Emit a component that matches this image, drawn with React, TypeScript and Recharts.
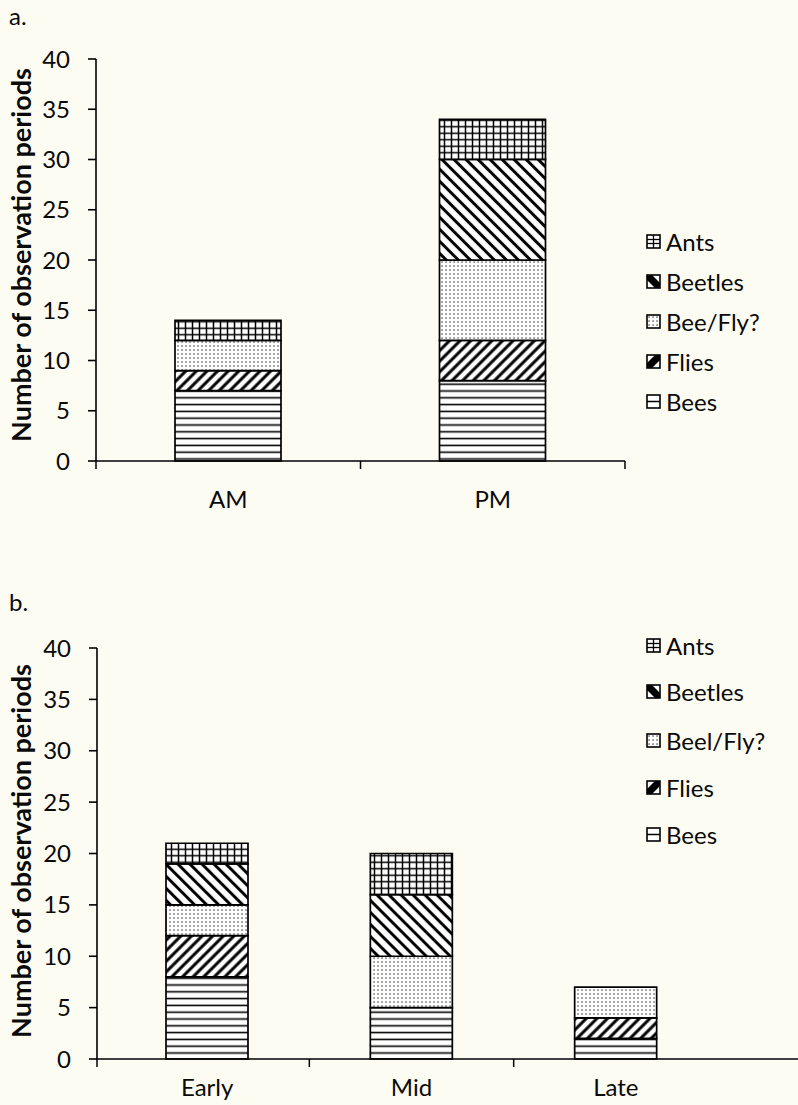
import React from 'react';
import { BarChart, Bar, XAxis, YAxis } from 'recharts';

const categoriesA = ['AM', 'PM'];
const beesA = [7, 8];
const fliesA = [2, 4];
const beeFlyA = [3, 8];
const beetlesA = [0, 10];
const antsA = [2, 4];

const categoriesB = ['Early', 'Mid', 'Late'];
const beesB = [8, 5, 2];
const fliesB = [4, 0, 2];
const beeFlyB = [3, 5, 3];
const beetlesB = [4, 6, 0];
const antsB = [2, 4, 0];

const yTicks = [0, 5, 10, 15, 20, 25, 30, 35, 40];
const legendA = ['Ants', 'Beetles', 'Bee/Fly?', 'Flies', 'Bees'];
const legendB = ['Ants', 'Beetles', 'Beel/Fly?', 'Flies', 'Bees'];
const yTitle = 'Number of observation periods';

const dataA = categoriesA.map((c, i) => ({
  cat: c, bees: beesA[i], flies: fliesA[i], beeFly: beeFlyA[i], beetles: beetlesA[i], ants: antsA[i],
}));
const dataB = categoriesB.map((c, i) => ({
  cat: c, bees: beesB[i], flies: fliesB[i], beeFly: beeFlyB[i], beetles: beetlesB[i], ants: antsB[i],
}));

const FONT = 'Lato, "Open Sans", sans-serif';
const BG = '#fdfcf3';
const INK = '#0a0a0a';
const TICK_FS = 24;

const series = [
  { key: 'bees', fill: 'url(#pBees)' },
  { key: 'flies', fill: 'url(#pFlies)' },
  { key: 'beeFly', fill: 'url(#pBeeFly)' },
  { key: 'beetles', fill: 'url(#pBeetles)' },
  { key: 'ants', fill: 'url(#pAnts)' },
];

function Patterns() {
  return (
    <svg width="0" height="0" style={{ position: 'absolute', left: 0, top: 0 }}>
      <defs>
        <pattern id="pBees" patternUnits="userSpaceOnUse" width="10" height="6.8">
          <rect width="10" height="6.8" fill="#fff" />
          <line x1="0" y1="3.4" x2="10" y2="3.4" stroke="#000" strokeWidth="1.6" />
        </pattern>
        <pattern id="pFlies" patternUnits="userSpaceOnUse" width="7.5" height="8" patternTransform="rotate(45)">
          <rect width="7.5" height="8" fill="#fff" />
          <line x1="3.75" y1="0" x2="3.75" y2="8" stroke="#000" strokeWidth="3" />
        </pattern>
        <pattern id="pBeeFly" patternUnits="userSpaceOnUse" width="4" height="4">
          <rect width="4" height="4" fill="#fff" />
          <rect x="1.4" y="1.4" width="1.3" height="1.3" fill="#333" />
        </pattern>
        <pattern id="pBeetles" patternUnits="userSpaceOnUse" width="8.5" height="8" patternTransform="rotate(-45)">
          <rect width="8.5" height="8" fill="#fff" />
          <line x1="4.25" y1="0" x2="4.25" y2="8" stroke="#000" strokeWidth="3" />
        </pattern>
        <pattern id="pAnts" patternUnits="userSpaceOnUse" width="7" height="6.5">
          <rect width="7" height="6.5" fill="#fff" />
          <line x1="3.5" y1="0" x2="3.5" y2="6.5" stroke="#000" strokeWidth="1.5" />
          <line x1="0" y1="3.25" x2="7" y2="3.25" stroke="#000" strokeWidth="1.5" />
        </pattern>
      </defs>
    </svg>
  );
}

function LegendIcon({ name }: { name: string }) {
  const s = 13;
  let inner: React.ReactNode = null;
  if (name === 'Ants') {
    inner = (
      <g stroke="#000" strokeWidth="1.3">
        <line x1="6.5" y1="0" x2="6.5" y2="13" />
        <line x1="0" y1="4.5" x2="13" y2="4.5" />
        <line x1="0" y1="8.5" x2="13" y2="8.5" />
      </g>
    );
  } else if (name === 'Beetles') {
    inner = <polygon points="0,0 5,0 13,8 13,13 8,13 0,5" fill="#000" />;
  } else if (name === 'Flies') {
    inner = <polygon points="13,0 8,0 0,8 0,13 5,13 13,5" fill="#000" />;
  } else if (name === 'Bees') {
    inner = <line x1="0" y1="6.5" x2="13" y2="6.5" stroke="#000" strokeWidth="1.5" />;
  } else {
    inner = <rect x="0" y="0" width="13" height="13" fill="url(#pBeeFly)" />;
  }
  return (
    <svg width={s + 2} height={s + 2} style={{ display: 'block' }}>
      <g transform="translate(1,1)">
        <rect x="0" y="0" width={s} height={s} fill="#fff" />
        {inner}
        <rect x="0" y="0" width={s} height={s} fill="none" stroke="#000" strokeWidth="1.6" />
      </g>
    </svg>
  );
}

function LegendBlock({ items, left, rows }: { items: string[]; left: number; rows: number[] }) {
  return (
    <>
      {items.map((it, i) => (
        <div
          key={it}
          style={{
            position: 'absolute', left, top: rows[i] - 16, height: 32,
            display: 'flex', alignItems: 'center', gap: 5,
            fontFamily: FONT, fontSize: 24, color: INK, whiteSpace: 'nowrap',
          }}
        >
          <LegendIcon name={it} />
          <span>{it}</span>
        </div>
      ))}
    </>
  );
}

function makeTick(band: number, plotLeft: number, labelDy: number, endTick: boolean, count: number) {
  return (props: any) => {
    const { x, y, payload, index } = props;
    const bx = index === 0 ? plotLeft : x - band / 2;
    return (
      <g>
        <line x1={bx} y1={y} x2={bx} y2={y + 8} stroke="#000" strokeWidth={1.5} />
        {endTick && index === count - 1 ? (
          <line x1={x + band / 2} y1={y} x2={x + band / 2} y2={y + 8} stroke="#000" strokeWidth={1.5} />
        ) : null}
        <text x={x} y={y + labelDy} textAnchor="middle" fill={INK} fontFamily={FONT} fontSize={TICK_FS}>
          {payload.value}
        </text>
      </g>
    );
  };
}

function YTitle({ cx, cy }: { cx: number; cy: number }) {
  return (
    <div
      style={{
        position: 'absolute', left: cx, top: cy, transform: 'translate(-50%, -50%) rotate(-90deg)',
        fontFamily: FONT, fontWeight: 700, fontSize: 27, color: INK, whiteSpace: 'nowrap',
      }}
    >
      {yTitle}
    </div>
  );
}

export default function App() {
  const axisStroke = { stroke: '#000', strokeWidth: 1.6 };
  const yTick = { fill: INK, fontFamily: FONT, fontSize: TICK_FS };
  return (
    <div style={{ position: 'absolute', left: 0, top: 0, width: 798, height: 1105, background: BG, overflow: 'hidden' }}>
      <Patterns />
      <div style={{ position: 'absolute', left: 9, top: 1, fontFamily: FONT, fontSize: 24, color: INK }}>a.</div>
      <div style={{ position: 'absolute', left: 9, top: 587, fontFamily: FONT, fontSize: 24, color: INK }}>b.</div>

      <div style={{ position: 'absolute', left: 0, top: 0 }}>
        <BarChart width={798} height={530} data={dataA} margin={{ top: 59, right: 173, bottom: 19, left: 36 }} barCategoryGap={0}>
          <XAxis
            dataKey="cat"
            axisLine={axisStroke}
            tickLine={false}
            tickSize={0}
            tickMargin={0}
            height={50}
            interval={0}
            tick={makeTick(264.5, 96, 47, true, categoriesA.length)}
          />
          <YAxis
            domain={[0, 40]}
            ticks={yTicks}
            interval={0}
            width={60}
            axisLine={axisStroke}
            tickLine={axisStroke}
            tickSize={8}
            tickMargin={18}
            tick={yTick}
          />
          {series.map((s) => (
            <Bar key={s.key} dataKey={s.key} stackId="a" fill={s.fill} stroke="#000" strokeWidth={1.7} barSize={106} isAnimationActive={false} />
          ))}
        </BarChart>
      </div>

      <div style={{ position: 'absolute', left: 0, top: 560 }}>
        <BarChart width={798} height={545} data={dataB} margin={{ top: 88, right: 0, bottom: 6, left: 37 }} barCategoryGap={0}>
          <XAxis
            dataKey="cat"
            axisLine={axisStroke}
            tickLine={false}
            tickSize={0}
            tickMargin={0}
            height={40}
            interval={0}
            padding={{ left: 8, right: 80 }}
            tick={makeTick(204.33, 97, 37, false, categoriesB.length)}
          />
          <YAxis
            domain={[0, 40]}
            ticks={yTicks}
            interval={0}
            width={60}
            axisLine={axisStroke}
            tickLine={axisStroke}
            tickSize={8}
            tickMargin={18}
            tick={yTick}
          />
          {series.map((s) => (
            <Bar key={s.key} dataKey={s.key} stackId="b" fill={s.fill} stroke="#000" strokeWidth={1.7} barSize={82} isAnimationActive={false} />
          ))}
        </BarChart>
      </div>

      <YTitle cx={20} cy={255} />
      <YTitle cx={20} cy={851} />
      <LegendBlock items={legendA} left={646} rows={[241, 281, 321, 361, 401]} />
      <LegendBlock items={legendB} left={646} rows={[645, 691, 740, 787, 834]} />
    </div>
  );
}
